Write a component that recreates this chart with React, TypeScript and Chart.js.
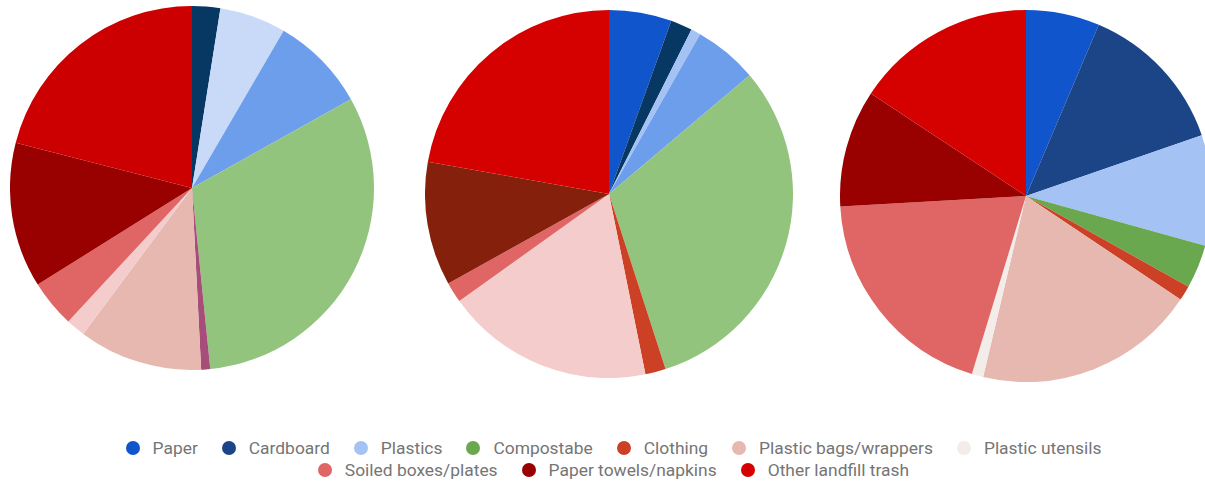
import React, { useEffect, useRef } from "react";
import { Chart, registerables } from "chart.js";

Chart.register(...registerables);

const categories = [
  "Paper",
  "Cardboard",
  "Plastics",
  "Compostabe",
  "Clothing",
  "Plastic bags/wrappers",
  "Plastic utensils",
  "Soiled boxes/plates",
  "Paper towels/napkins",
  "Other landfill trash",
];

const legendColors = [
  "#1155cc",
  "#1c4587",
  "#a4c2f4",
  "#6aa84f",
  "#cc4125",
  "#e6b8af",
  "#f3ece9",
  "#e06666",
  "#990000",
  "#d50000",
];

const pie1Values = [2.5, 5.9, 8.5, 31.5, 0.8, 11.0, 1.7, 4.2, 12.9, 21.0];
const pie1Colors = ["#073763", "#c9daf8", "#6d9eeb", "#93c47d", "#a64d79", "#e6b8af", "#f4cccc", "#e06666", "#990000", "#cc0000"];

const pie2Values = [5.5, 1.9, 0.85, 5.6, 31.2, 1.8, 18.3, 1.8, 10.9, 22.2];
const pie2Colors = ["#1155cc", "#073763", "#a4c2f4", "#6d9eeb", "#93c47d", "#cc4125", "#f4cccc", "#e06666", "#85200c", "#d50000"];

const pie3Values = [6.4, 13.3, 9.6, 3.8, 1.3, 19.3, 1.0, 19.4, 10.2, 15.7];
const pie3Colors = legendColors;

const legendRow1 = categories.slice(0, 7);
const legendRow2 = categories.slice(7);

type PieProps = { values: number[]; colors: string[]; cx: number; cy: number; r: number };

function Pie({ values, colors, cx, cy, r }: PieProps) {
  const ref = useRef<HTMLCanvasElement | null>(null);
  useEffect(() => {
    if (!ref.current) return;
    const chart = new Chart(ref.current, {
      type: "pie",
      data: {
        labels: categories,
        datasets: [
          {
            data: values,
            backgroundColor: colors,
            borderWidth: 0,
          },
        ],
      },
      options: {
        responsive: false,
        animation: false,
        layout: { padding: 0 },
        plugins: { legend: { display: false }, tooltip: { enabled: false } },
      },
    });
    return () => chart.destroy();
  }, []);
  return (
    <canvas
      ref={ref}
      width={2 * r}
      height={2 * r}
      style={{ position: "absolute", left: cx - r, top: cy - r, width: 2 * r, height: 2 * r }}
    />
  );
}

function LegendItem({ label }: { label: string }) {
  const idx = categories.indexOf(label);
  return (
    <div style={{ display: "flex", alignItems: "center", marginRight: 24 }}>
      <span
        style={{
          display: "inline-block",
          width: 14,
          height: 14,
          borderRadius: 7,
          background: legendColors[idx],
          marginRight: 13,
        }}
      />
      <span>{label}</span>
    </div>
  );
}

export default function App() {
  const rowStyle: React.CSSProperties = {
    position: "absolute",
    left: 11,
    width: 1205 + 24,
    display: "flex",
    justifyContent: "center",
    fontFamily: "Roboto, Arial, sans-serif",
    fontSize: 17.4,
    color: "#757575",
    lineHeight: "20px",
    whiteSpace: "nowrap",
  };
  return (
    <div
      style={{
        position: "fixed",
        left: 0,
        top: 0,
        width: 1205,
        height: 484,
        overflow: "hidden",
        background: "#ffffff",
      }}
    >
      <Pie values={pie1Values} colors={pie1Colors} cx={192} cy={188} r={182} />
      <Pie values={pie2Values} colors={pie2Colors} cx={609} cy={194} r={184} />
      <Pie values={pie3Values} colors={pie3Colors} cx={1026} cy={196} r={186} />
      <div style={{ ...rowStyle, top: 438 }}>
        {legendRow1.map((l) => (
          <LegendItem key={l} label={l} />
        ))}
      </div>
      <div style={{ ...rowStyle, top: 460 }}>
        {legendRow2.map((l) => (
          <LegendItem key={l} label={l} />
        ))}
      </div>
    </div>
  );
}
